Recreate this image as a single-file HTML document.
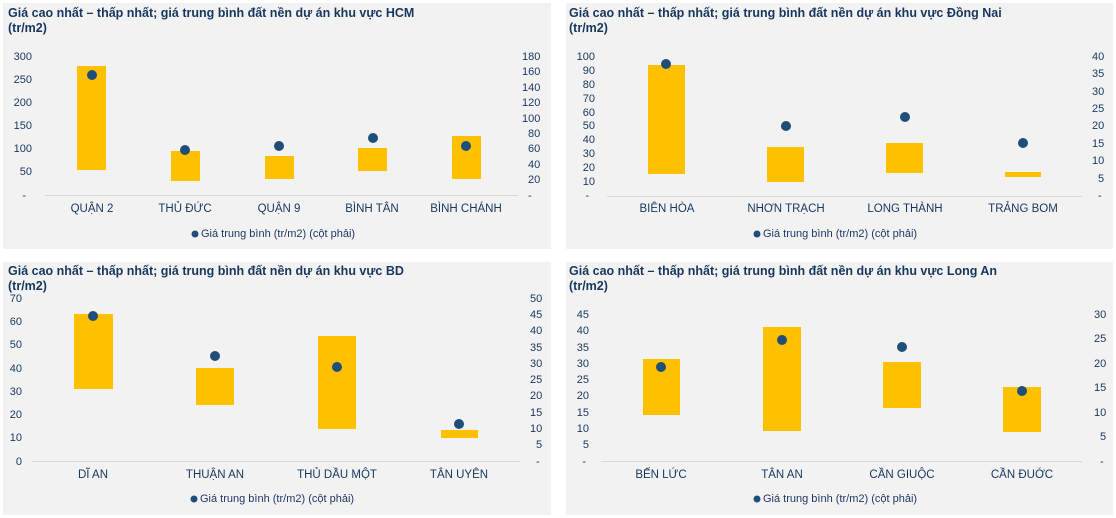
<!DOCTYPE html>
<html><head><meta charset="utf-8"><style>
body{margin:0;background:#fff;width:1116px;height:518px;overflow:hidden}
svg{display:block}
text{font-family:"Liberation Sans","DejaVu Sans",sans-serif;fill:#17375e}
.t{font-size:12.5px;font-weight:bold}
.k{font-size:11px;dominant-baseline:central}
.c{font-size:11.5px;dominant-baseline:central;text-anchor:middle}
.l{font-size:11px;dominant-baseline:central;fill:#1f3864}
</style></head><body>
<svg width="1116" height="518" viewBox="0 0 1116 518">
<rect x="3" y="3" width="548" height="246" fill="#f2f2f2"/>
<rect x="566" y="3" width="547" height="246" fill="#f2f2f2"/>
<rect x="3" y="262" width="548" height="253" fill="#f2f2f2"/>
<rect x="566" y="262" width="547" height="253" fill="#f2f2f2"/>

<!-- Panel 1 HCM -->
<text class="t" x="8" y="17">Giá cao nhất – thấp nhất; giá trung bình đất nền dự án khu vực HCM</text>
<text class="t" x="8" y="32">(tr/m2)</text>
<line x1="45" y1="195.5" x2="518" y2="195.5" stroke="#d9d9d9"/>
<g class="k" text-anchor="end">
<text x="32" y="57">300</text><text x="32" y="80">250</text><text x="32" y="103">200</text><text x="32" y="126">150</text><text x="32" y="149">100</text><text x="32" y="172">50</text><text x="26" y="196">-</text></g>
<g class="k">
<text x="522" y="57">180</text><text x="522" y="72">160</text><text x="522" y="88">140</text><text x="522" y="103">120</text><text x="522" y="119">100</text><text x="528" y="134">80</text><text x="528" y="149">60</text><text x="528" y="165">40</text><text x="528" y="180">20</text><text x="528" y="196">-</text></g>
<g fill="#ffc000">
<rect x="77" y="66" width="29" height="104"/><rect x="171" y="151" width="29" height="30"/><rect x="265" y="156" width="29" height="23"/><rect x="358" y="148" width="29" height="23"/><rect x="452" y="136" width="29" height="43"/></g>
<g fill="#1f4e79"><circle cx="92" cy="75" r="5"/><circle cx="185" cy="150" r="5"/><circle cx="279" cy="146" r="5"/><circle cx="373" cy="138" r="5"/><circle cx="466" cy="146" r="5"/></g>
<text class="c" x="92" y="209">QUẬN 2</text><text class="c" x="185" y="209">THỦ ĐỨC</text><text class="c" x="279" y="209">QUẬN 9</text><text class="c" x="372" y="209">BÌNH TÂN</text><text class="c" x="466" y="209">BÌNH CHÁNH</text>
<circle cx="195" cy="234" r="3.5" fill="#1f4e79"/><text class="l" x="201" y="234">Giá trung bình (tr/m2) (cột phải)</text>

<!-- Panel 2 Dong Nai -->
<text class="t" x="569" y="17">Giá cao nhất – thấp nhất; giá trung bình đất nền dự án khu vực Đồng Nai</text>
<text class="t" x="569" y="32">(tr/m2)</text>
<line x1="607" y1="196.5" x2="1082" y2="196.5" stroke="#d9d9d9"/>
<g class="k" text-anchor="end">
<text x="595" y="57">100</text><text x="595" y="71">90</text><text x="595" y="85">80</text><text x="595" y="99">70</text><text x="595" y="113">60</text><text x="595" y="126">50</text><text x="595" y="140">40</text><text x="595" y="154">30</text><text x="595" y="168">20</text><text x="595" y="182">10</text><text x="589" y="196">-</text></g>
<g class="k">
<text x="1092" y="57">40</text><text x="1092" y="74">35</text><text x="1092" y="92">30</text><text x="1092" y="109">25</text><text x="1092" y="126">20</text><text x="1092" y="144">15</text><text x="1092" y="161">10</text><text x="1098" y="179">5</text><text x="1098" y="196">-</text></g>
<g fill="#ffc000">
<rect x="648" y="65" width="37" height="109"/><rect x="767" y="147" width="37" height="35"/><rect x="886" y="143" width="37" height="30"/><rect x="1005" y="172" width="36" height="5"/></g>
<g fill="#1f4e79"><circle cx="666" cy="64" r="5"/><circle cx="786" cy="126" r="5"/><circle cx="905" cy="117" r="5"/><circle cx="1023" cy="143" r="5"/></g>
<text class="c" x="667" y="209">BIÊN HÒA</text><text class="c" x="786" y="209">NHƠN TRẠCH</text><text class="c" x="905" y="209">LONG THÀNH</text><text class="c" x="1023" y="209">TRẢNG BOM</text>
<circle cx="757" cy="234" r="3.5" fill="#1f4e79"/><text class="l" x="763" y="234">Giá trung bình (tr/m2) (cột phải)</text>

<!-- Panel 3 BD -->
<text class="t" x="8" y="275">Giá cao nhất – thấp nhất; giá trung bình đất nền dự án khu vực BD</text>
<text class="t" x="8" y="290">(tr/m2)</text>
<line x1="32" y1="461.5" x2="520" y2="461.5" stroke="#d9d9d9"/>
<g class="k" text-anchor="end">
<text x="22" y="299">70</text><text x="22" y="322">60</text><text x="22" y="345">50</text><text x="22" y="369">40</text><text x="22" y="392">30</text><text x="22" y="415">20</text><text x="22" y="438">10</text><text x="22" y="462">0</text></g>
<g class="k">
<text x="530" y="299">50</text><text x="530" y="315">45</text><text x="530" y="331">40</text><text x="530" y="348">35</text><text x="530" y="364">30</text><text x="530" y="380">25</text><text x="530" y="396">20</text><text x="530" y="413">15</text><text x="530" y="429">10</text><text x="536" y="445">5</text><text x="536" y="462">-</text></g>
<g fill="#ffc000">
<rect x="74" y="314" width="39" height="75"/><rect x="196" y="368" width="38" height="37"/><rect x="318" y="336" width="38" height="93"/><rect x="441" y="430" width="37" height="8"/></g>
<g fill="#1f4e79"><circle cx="93" cy="316" r="5"/><circle cx="215" cy="356" r="5"/><circle cx="337" cy="367" r="5"/><circle cx="459" cy="424" r="5"/></g>
<text class="c" x="93" y="475">DĨ AN</text><text class="c" x="215" y="475">THUẬN AN</text><text class="c" x="337" y="475">THỦ DẦU MỘT</text><text class="c" x="459" y="475">TÂN UYÊN</text>
<circle cx="194" cy="499" r="3.5" fill="#1f4e79"/><text class="l" x="200" y="499">Giá trung bình (tr/m2) (cột phải)</text>

<!-- Panel 4 Long An -->
<text class="t" x="569" y="275">Giá cao nhất – thấp nhất; giá trung bình đất nền dự án khu vực Long An</text>
<text class="t" x="569" y="290">(tr/m2)</text>
<line x1="601" y1="461.5" x2="1082" y2="461.5" stroke="#d9d9d9"/>
<g class="k" text-anchor="end">
<text x="589" y="315">45</text><text x="589" y="331">40</text><text x="589" y="348">35</text><text x="589" y="364">30</text><text x="589" y="380">25</text><text x="589" y="396">20</text><text x="589" y="413">15</text><text x="589" y="429">10</text><text x="589" y="445">5</text><text x="586" y="462">-</text></g>
<g class="k">
<text x="1094" y="315">30</text><text x="1094" y="339">25</text><text x="1094" y="364">20</text><text x="1094" y="388">15</text><text x="1094" y="413">10</text><text x="1100" y="437">5</text><text x="1100" y="462">-</text></g>
<g fill="#ffc000">
<rect x="643" y="359" width="37" height="56"/><rect x="763" y="327" width="38" height="104"/><rect x="883" y="362" width="38" height="46"/><rect x="1003" y="387" width="38" height="45"/></g>
<g fill="#1f4e79"><circle cx="661" cy="367" r="5"/><circle cx="782" cy="340" r="5"/><circle cx="902" cy="347" r="5"/><circle cx="1022" cy="391" r="5"/></g>
<text class="c" x="661" y="475">BẾN LỨC</text><text class="c" x="782" y="475">TÂN AN</text><text class="c" x="902" y="475">CẦN GIUỘC</text><text class="c" x="1022" y="475">CẦN ĐUỚC</text>
<circle cx="757" cy="499" r="3.5" fill="#1f4e79"/><text class="l" x="763" y="499">Giá trung bình (tr/m2) (cột phải)</text>
</svg>
</body></html>
